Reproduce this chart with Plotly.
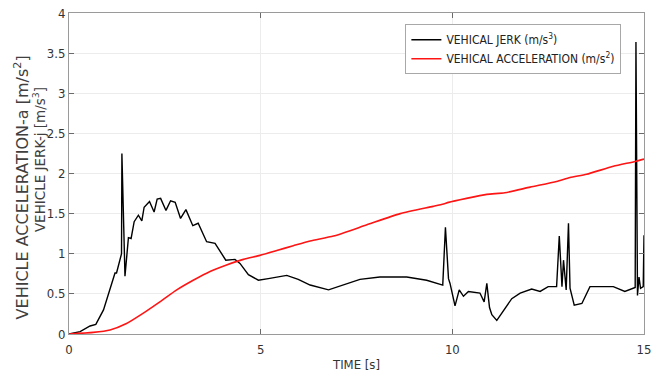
import plotly.graph_objects as go

# Vehicle jerk samples (time in s, jerk in m/s^3)
jerk_t = [0.0, 0.29, 0.55, 0.7, 0.9, 1.03, 1.2, 1.24, 1.37, 1.38, 1.46, 1.55, 1.62, 1.70,
          1.81, 1.90, 1.96, 2.10, 2.22, 2.30, 2.39, 2.53, 2.65, 2.77, 2.91, 3.05, 3.23,
          3.37, 3.59, 3.81, 4.09, 4.33, 4.46, 4.68, 4.94, 5.2, 5.68, 5.98, 6.29, 6.77,
          7.16, 7.59, 8.11, 8.81, 9.33, 9.75, 9.82, 9.90, 9.94, 10.07, 10.18, 10.29,
          10.42, 10.72, 10.83, 10.9, 10.97, 11.03, 11.16, 11.55, 11.77, 12.07, 12.29,
          12.50, 12.72, 12.79, 12.86, 12.90, 12.97, 13.03, 13.07, 13.18, 13.38, 13.59,
          14.2, 14.5, 14.77, 14.79, 14.83, 14.87, 14.91, 14.98, 15.0]
jerk_v = [0.0, 0.03, 0.10, 0.12, 0.30, 0.51, 0.76, 0.76, 1.0, 2.25, 0.72, 1.2, 1.19, 1.40,
          1.48, 1.41, 1.58, 1.65, 1.52, 1.68, 1.69, 1.54, 1.66, 1.64, 1.44, 1.55, 1.35,
          1.38, 1.15, 1.13, 0.92, 0.93, 0.88, 0.74, 0.67, 0.69, 0.73, 0.68, 0.61, 0.55,
          0.61, 0.68, 0.71, 0.71, 0.67, 0.61, 1.33, 0.69, 0.63, 0.35, 0.55, 0.47,
          0.53, 0.51, 0.40, 0.63, 0.33, 0.24, 0.17, 0.44, 0.51, 0.56, 0.53,
          0.59, 0.59, 1.22, 0.59, 0.92, 0.55, 1.38, 0.57, 0.36, 0.38, 0.59,
          0.59, 0.53, 0.58, 3.64, 0.48, 0.71, 0.57, 0.59, 1.23]

# Vehicle acceleration samples (time in s, acceleration in m/s^2)
acc_t = [0.0, 0.63, 1.07, 1.5, 1.94, 2.37, 2.81, 3.24, 3.68, 4.11, 4.55, 4.98, 5.42,
         5.85, 6.29, 6.9, 7.77, 8.64, 9.5, 9.77, 9.9, 10.37, 10.9, 11.37, 12.03, 12.72,
         13.07, 13.5, 14.2, 14.77, 15.0]
acc_v = [0.0, 0.02, 0.05, 0.13, 0.26, 0.40, 0.55, 0.67, 0.78, 0.86, 0.93, 0.98, 1.04,
         1.10, 1.16, 1.22, 1.36, 1.50, 1.59, 1.62, 1.64, 1.69, 1.74, 1.76, 1.83, 1.90,
         1.95, 1.99, 2.09, 2.15, 2.18]

x_ticks = [0, 5, 10, 15]
y_ticks = [0, 0.5, 1, 1.5, 2, 2.5, 3, 3.5, 4]
y_tick_text = ["0", "0.5", "1", "1.5", "2", "2.5", "3", "3.5", "4"]

FONT = "DejaVu Sans Condensed, DejaVu Sans, sans-serif"

fig = go.Figure()
fig.add_trace(go.Scatter(x=jerk_t, y=jerk_v, mode="lines",
                         line=dict(color="black", width=1.4),
                         name="VEHICAL JERK (m/s<sup>3</sup>)"))
fig.add_trace(go.Scatter(x=acc_t, y=acc_v, mode="lines",
                         line=dict(color="#ff1414", width=1.6, shape="spline", smoothing=0.6),
                         name="VEHICAL ACCELERATION (m/s<sup>2</sup>)"))

axis_common = dict(showline=True, linecolor="#9a9a9a", linewidth=1, mirror="ticks",
                   ticks="inside", ticklen=5, tickcolor="#6a6a6a",
                   showgrid=True, gridcolor="#ececec", gridwidth=1, zeroline=False,
                   automargin=False,
                   tickfont=dict(family=FONT, size=13, color="#333333"))

fig.update_layout(
    width=667, height=372,
    margin=dict(l=69, r=23, t=13, b=38),
    paper_bgcolor="white", plot_bgcolor="white",
    font=dict(family=FONT, color="#333333"),
    showlegend=True,
    legend=dict(x=0.585, y=0.965, xanchor="left", yanchor="top",
                bgcolor="white", bordercolor="#a8a8a8", borderwidth=1,
                font=dict(family=FONT, size=12, color="#222222"),
                tracegroupgap=0, itemwidth=30),
    xaxis=dict(range=[0, 15], tickvals=x_ticks, ticktext=[str(v) for v in x_ticks],
               ticklabelstandoff=3,
               title=dict(text="TIME [s]", font=dict(family=FONT, size=13, color="#333333"),
                          standoff=4),
               **axis_common),
    yaxis=dict(range=[0, 4], tickvals=y_ticks, ticktext=y_tick_text, **axis_common),
)

# Two-line y-axis title
fig.add_annotation(text="VEHICLE ACCELERATION-a [m/s<sup>2</sup>]", xref="paper", yref="paper",
                   x=-0.081, y=0.458, xanchor="center", yanchor="middle", textangle=-90,
                   showarrow=False, font=dict(family="DejaVu Sans", size=16, color="#404040"))
fig.add_annotation(text="VEHICLE JERK-j [m/s<sup>3</sup>]", xref="paper", yref="paper",
                   x=-0.052, y=0.542, xanchor="center", yanchor="middle", textangle=-90,
                   showarrow=False, font=dict(family="DejaVu Sans", size=13.5, color="#404040"))

fig.write_html("out.html")
